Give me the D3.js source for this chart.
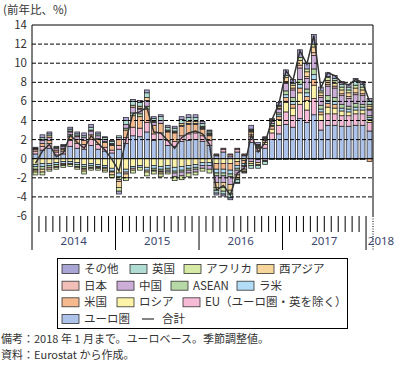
<!DOCTYPE html>
<html>
<head>
<meta charset="utf-8">
<script src="https://cdn.jsdelivr.net/npm/d3@7"></script>
<style>
  body { margin: 0; background: #fff; }
  svg { display: block; font-family: "Noto Sans CJK JP", "Noto Sans", sans-serif; }
</style>
</head>
<body>
<div id="chart"></div>
<script>
// monthly, 2014-01 .. 2018-01
var months = d3.range(49).map(function(i) {
  return (2014 + Math.floor(i / 12)) + "-" + d3.format("02")(i % 12 + 1);
});
var years = ["2014", "2015", "2016", "2017", "2018"];
var yTicks = [14, 12, 10, 8, 6, 4, 2, 0, -2, -4, -6];

var euro  = [0.5,0.9,1.1,0.4,0.5,1.3,1.1,1.0,1.4,1.0,0.8,0.6, 1.0,1.6,2.4,2.3,2.8,1.9,2.0,1.4,1.3,1.8,1.9,2.0, 1.8,1.4,0.3,0.7,0.2,0.7,0.3,1.7,0.8,1.1,2.0,2.6, 3.6,3.3,4.2,3.8,4.6,3.0,3.5,3.5,3.4,3.4,3.5,3.5, 2.9];
var eu    = [0.3,0.4,0.5,0.3,0.3,0.6,0.5,0.5,0.6,0.5,0.4,0.3, 0.4,0.6,0.9,0.9,1.0,0.7,0.7,0.5,0.5,0.6,0.7,0.7, 0.6,0.5,0.1,0.3,0.2,0.3,0.1,0.6,0.3,0.4,0.7,0.9, 1.3,1.2,1.5,1.3,1.7,1.0,1.2,1.2,1.1,1.1,1.2,1.2, 0.9];
var russia= [-0.6,-0.5,-0.5,-0.4,-0.3,-0.3,-0.4,-0.6,-0.5,-0.6,-0.7,-1.0, -1.5,-1.1,-0.8,-0.7,-0.9,-0.7,-0.8,-0.7,-0.9,-0.8,-0.7,-0.6, -0.4,-0.4,-0.5,-0.5,-0.5,-0.3,-0.2,0.2,0.1,0.2,0.4,0.6, 1.0,0.8,1.2,1.0,1.4,0.6,0.7,0.6,0.5,0.4,0.4,0.4, 0.3];
var us    = [0.15,0.3,0.3,0.2,0.2,0.4,0.4,0.4,0.5,0.5,0.5,0.5, 0.6,0.8,1.2,1.2,1.4,0.9,1.0,0.9,0.9,1.0,1.0,0.9, 0.7,0.5,-0.6,-0.6,-0.7,-0.4,-0.3,0.3,0.1,0.2,0.3,0.3, 0.5,0.4,0.5,0.4,0.6,0.3,0.4,0.4,-0.1,-0.1,-0.1,-0.1, -0.3];
var latam = [-0.2,-0.3,-0.2,-0.2,-0.2,-0.2,-0.2,-0.2,-0.2,-0.2,-0.2,-0.3, -0.4,-0.3,-0.2,-0.2,-0.3,-0.3,-0.3,-0.3,-0.4,-0.4,-0.3,-0.3, -0.3,-0.3,-0.4,-0.4,-0.4,-0.3,-0.2,0.1,-0.1,0.1,0.1,0.2, 0.3,0.3,0.4,0.4,0.5,0.3,0.3,0.3,0.3,0.3,0.3,0.3, 0.2];
var asean = [-0.3,-0.3,-0.2,-0.2,0.1,0.2,-0.2,-0.2,-0.2,0.1,0.1,0.1, -0.3,0.2,0.3,0.3,0.3,-0.2,-0.2,-0.2,-0.2,-0.2,-0.2,-0.2, 0.1,0.1,-0.3,-0.3,-0.3,-0.2,-0.1,0.1,0.1,0.1,0.2,0.2, 0.4,0.4,0.5,0.4,0.6,0.4,0.5,0.4,0.4,0.3,0.4,0.3, 0.2];
var china = [0.1,0.3,0.3,0.2,0.2,0.3,0.3,0.3,0.4,0.3,0.2,0.1, 0.2,0.4,0.6,0.5,0.6,0.3,0.3,-0.2,-0.4,-0.4,-0.3,-0.3, -0.3,-0.4,-0.7,-0.7,-0.8,-0.5,-0.3,-0.3,-0.3,-0.2,0.2,0.4, 0.8,0.8,1.2,1.1,1.4,0.8,1.0,1.0,0.9,0.8,0.9,0.9, 0.6];
var japan = [-0.1,0.1,-0.2,-0.1,-0.1,-0.1,-0.1,-0.1,-0.1,-0.1,-0.1,-0.1, -0.2,-0.2,-0.2,0.1,-0.2,-0.1,-0.1,0.1,0.1,0.1,0.1,0.1, 0.1,0.1,0.1,0.1,0.1,0.1,0.1,0.1,0.1,0.1,0.1,0.1, 0.2,0.2,0.3,0.2,0.3,0.2,0.2,0.2,0.2,0.2,0.2,0.2, 0.1];
var wasia = [-0.2,-0.3,0.2,0.1,-0.1,0.1,0.1,-0.2,0.1,-0.1,-0.2,-0.3, -0.6,-0.4,0.2,0.2,0.3,0.1,-0.2,0.1,0.1,0.2,0.2,0.2, 0.1,0.1,-0.5,-0.5,-0.6,-0.3,-0.2,-0.2,-0.2,-0.1,0.1,0.2, 0.4,0.3,0.5,0.5,0.6,0.3,0.4,0.3,0.4,0.4,0.5,0.4, 0.3];
var africa= [-0.3,-0.3,-0.2,-0.2,-0.2,-0.2,-0.2,-0.3,-0.2,-0.2,-0.2,-0.3, -0.4,-0.3,-0.3,-0.3,-0.4,-0.3,-0.3,-0.2,-0.4,-0.4,-0.4,-0.3, -0.3,-0.4,-0.3,-0.4,-0.4,-0.2,-0.1,-0.2,-0.1,0.0,0.1,0.1, 0.2,0.2,0.3,0.3,0.3,0.2,0.3,0.3,0.3,0.3,0.3,0.3, 0.2];
var uk    = [0.05,0.2,0.2,0.1,0.1,0.2,0.2,0.2,0.3,0.2,0.2,0.2, 0.2,0.4,0.4,0.4,0.5,0.3,0.4,0.3,0.3,0.4,0.4,0.4, 0.3,0.2,-0.3,-0.3,-0.4,-0.3,-0.1,-0.3,-0.3,-0.3,-0.1,-0.1, -0.1,-0.1,-0.1,-0.1,-0.1,-0.1,0.1,0.2,0.3,0.3,0.4,0.3, 0.3];
var other = [0.1,0.3,0.2,0.0,0.1,0.2,0.2,0.3,0.3,0.2,0.1,0.1, -0.3,0.3,0.2,0.2,0.3,0.2,0.2,0.2,0.2,0.3,0.3,0.3, 0.2,0.1,-0.2,-0.2,-0.2,-0.1,0.0,0.4,0.2,0.1,0.0,0.3, 0.6,0.4,0.8,0.6,1.0,0.4,0.4,0.3,0.3,0.3,0.3,0.3, 0.3];

// stacking order, bottom first
var series = [
  {key: "euro",   name: "ユーロ圏", color: "#aec3ea", values: euro},
  {key: "eu",     name: "EU（ユーロ圏・英を除く）", color: "#f5bbd6", values: eu},
  {key: "russia", name: "ロシア", color: "#fdf3a8", values: russia},
  {key: "us",     name: "米国", color: "#f4b98c", values: us},
  {key: "latam",  name: "ラ米", color: "#b3dcf6", values: latam},
  {key: "asean",  name: "ASEAN", color: "#b6d8a4", values: asean},
  {key: "china",  name: "中国", color: "#ccaed8", values: china},
  {key: "japan",  name: "日本", color: "#f2bfb8", values: japan},
  {key: "wasia",  name: "西アジア", color: "#f8d59a", values: wasia},
  {key: "africa", name: "アフリカ", color: "#d6e9a5", values: africa},
  {key: "uk",     name: "英国", color: "#b0ddd3", values: uk},
  {key: "other",  name: "その他", color: "#a9a5d5", values: other}
];
var color = {};
series.forEach(function(s) { color[s.key] = s.color; });

var rows = months.map(function(m, i) {
  var r = {month: m};
  series.forEach(function(s) { r[s.key] = s.values[i]; });
  r.total = d3.sum(series, function(s) { return s.values[i]; });
  return r;
});

var W = 398, H = 367;
var pl = 32, pr = 373, pt = 25, pb = 216;

var svg = d3.select("#chart").append("svg")
    .attr("width", W)
    .attr("height", H);

var x = d3.scaleBand()
    .domain(months)
    .range([pl, pr])
    .paddingInner(0.3)
    .paddingOuter(0.15);
var y = d3.scaleLinear()
    .domain([-6, 14])
    .range([pb, pt]);

var stack = d3.stack()
    .keys(series.map(function(s) { return s.key; }))
    .offset(d3.stackOffsetDiverging);

svg.append("text")
    .attr("x", 3).attr("y", 14)
    .attr("font-size", 11.5).attr("fill", "#333")
    .text("(前年比、%)");

// bars
svg.append("g").selectAll("g")
  .data(stack(rows))
  .join("g")
    .attr("fill", function(d) { return color[d.key]; })
  .selectAll("rect")
  .data(function(d) { return d; })
  .join("rect")
    .attr("x", function(d) { return x(d.data.month); })
    .attr("y", function(d) { return y(Math.max(d[0], d[1])); })
    .attr("width", x.bandwidth())
    .attr("height", function(d) { return Math.abs(y(d[0]) - y(d[1])); })
    .attr("stroke", "#1a1a1a")
    .attr("stroke-width", 0.7);

// grid lines
svg.append("g").selectAll("line")
  .data(yTicks.filter(function(v) { return v !== 14 && v !== -6; }))
  .join("line")
    .attr("x1", pl).attr("x2", pr)
    .attr("y1", function(v) { return y(v); })
    .attr("y2", function(v) { return y(v); })
    .attr("stroke", "#000")
    .attr("stroke-width", 1)
    .attr("stroke-dasharray", function(v) { return v === 0 ? null : "4,2"; });

// total line
svg.append("path")
    .datum(rows)
    .attr("fill", "none")
    .attr("stroke", "#333")
    .attr("stroke-width", 1.5)
    .attr("d", d3.line()
      .x(function(d) { return x(d.month) + x.bandwidth() / 2; })
      .y(function(d) { return y(d.total); }));

// frame
svg.append("path")
    .attr("fill", "none").attr("stroke", "#000").attr("stroke-width", 1)
    .attr("d", "M" + pl + "," + 250 + "V" + pt + "H" + pr + "V" + pb);
svg.append("line")
    .attr("x1", pr).attr("x2", pr).attr("y1", pb).attr("y2", 250)
    .attr("stroke", "#000").attr("stroke-dasharray", "1,1.5");

// y tick labels
svg.append("g").selectAll("text")
  .data(yTicks)
  .join("text")
    .attr("x", 27)
    .attr("y", function(v) { return y(v) + 4; })
    .attr("text-anchor", "end")
    .attr("font-size", 11.5)
    .attr("fill", "#333")
    .text(function(v) { return v; });

// month ticks and year separators
var step = x.step();
var bounds = d3.range(1, 49).map(function(i) { return pl + i * step; });
svg.append("g").selectAll("line")
  .data(bounds)
  .join("line")
    .attr("x1", function(b) { return b; })
    .attr("x2", function(b) { return b; })
    .attr("y1", pb)
    .attr("y2", function(b, i) { return (i + 1) % 12 === 0 ? 250 : 232; })
    .attr("stroke", "#000")
    .attr("stroke-width", 1);

svg.append("g").selectAll("text")
  .data(years)
  .join("text")
    .attr("x", function(d, i) { return i < 4 ? pl + (i * 12 + 6) * step : 381; })
    .attr("y", 245)
    .attr("text-anchor", "middle")
    .attr("font-family", "'Noto Sans', 'DejaVu Sans', sans-serif")
    .attr("font-size", 11.5)
    .attr("fill", "#3a4670")
    .text(function(d) { return d; });

// legend
var lg = svg.append("g");
lg.append("rect")
    .attr("x", 57.5).attr("y", 258.5)
    .attr("width", 290).attr("height", 70)
    .attr("fill", "#fff").attr("stroke", "#000");

// [key, swatch x, row]
var legendItems = [
  ["other", 62, 0], ["uk", 130, 0], ["africa", 184, 0], ["wasia", 257, 0],
  ["japan", 62, 1], ["china", 117, 1], ["asean", 171, 1], ["latam", 237, 1],
  ["us", 62, 2], ["russia", 117, 2], ["eu", 183, 2],
  ["euro", 62, 3]
];
var rowY = [269, 285.7, 302.3, 319];
var byKey = {};
series.forEach(function(s) { byKey[s.key] = s; });

legendItems.forEach(function(it) {
  var s = byKey[it[0]];
  lg.append("rect")
      .attr("x", it[1]).attr("y", rowY[it[2]] - 4.5)
      .attr("width", 17).attr("height", 9)
      .attr("fill", s.color)
      .attr("stroke", "#333").attr("stroke-width", 0.8);
  lg.append("text")
      .attr("x", it[1] + 22).attr("y", rowY[it[2]] + 4)
      .attr("font-size", 11.5).attr("fill", "#333")
      .text(s.name);
});
lg.append("line")
    .attr("x1", 142).attr("x2", 154)
    .attr("y1", rowY[3]).attr("y2", rowY[3])
    .attr("stroke", "#333").attr("stroke-width", 1.2);
lg.append("text")
    .attr("x", 162).attr("y", rowY[3] + 4)
    .attr("font-size", 11.5).attr("fill", "#333")
    .text("合計");

// notes
svg.append("text")
    .attr("x", 1).attr("y", 343)
    .attr("font-size", 11).attr("fill", "#333")
    .text("備考：2018 年 1 月まで。ユーロベース。季節調整値。");
svg.append("text")
    .attr("x", 1).attr("y", 359)
    .attr("font-size", 11).attr("fill", "#333")
    .text("資料：Eurostat から作成。");
</script>
</body>
</html>
